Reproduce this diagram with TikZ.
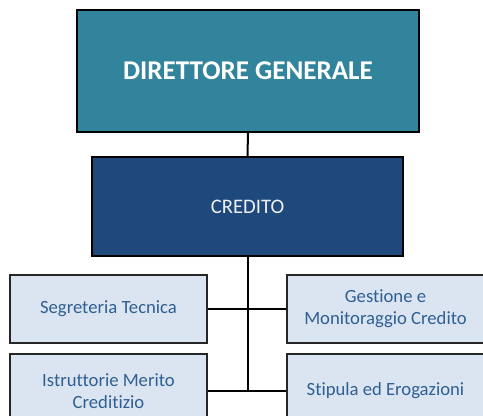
\documentclass[tikz,border=0pt]{standalone}
\usepackage{fontspec}
\setmainfont{Carlito}[Ligatures={NoCommon}]
\definecolor{dgteal}{HTML}{31849B}
\definecolor{credblue}{HTML}{1F497D}
\definecolor{unitfill}{HTML}{DBE5F1}
\definecolor{unittext}{HTML}{2F5F93}
\tikzset{
  unitbox/.style={draw=black!85, line width=1.5pt, fill=unitfill, text=unittext,
    minimum width=147.75pt, minimum height=51pt, align=center, inner sep=0pt,
    font=\fontsize{14}{16.5}\selectfont},
  link/.style={line width=1.5pt}
}
\begin{document}
\begin{tikzpicture}[x=0.75pt,y=-0.75pt]
        \useasboundingbox (0,0) rectangle (483,416);
        \clip (0,0) rectangle (483,416);

        \node[draw=black, line width=0.8pt, fill=dgteal, text=white, minimum width=256.5pt, minimum height=91.5pt,
          font=\fontsize{20.3}{24}\selectfont\bfseries] (dg) at (248,71) {DIRETTORE GENERALE};
        \node[draw=black, line width=1.6pt, fill=credblue, text=white!92!credblue, minimum width=233.25pt, minimum height=74.25pt,
          font=\fontsize{15.5}{18}\selectfont] (credito) at (247.5,206.5) {CREDITO};

        \node[unitbox] (segr) at (108.5,309) {Segreteria Tecnica};
        \node[unitbox] (gest) at (385.5,309) {Gestione e\\Monitoraggio Credito};
        \node[unitbox, minimum height=55.5pt] (istr) at (108.5,391) {Istruttorie Merito\\Creditizio};
        \node[unitbox, minimum height=55.5pt] (stip) at (385.5,391) {Stipula ed Erogazioni};

        \draw[link] (dg.south) -- (credito.north);
        \draw[link] (credito.south) -- (credito.south |- istr.east);
        \draw[link] (segr.east) -- (gest.west);
        \draw[link] (istr.east) -- (stip.west);
      \end{tikzpicture}
\end{document}
